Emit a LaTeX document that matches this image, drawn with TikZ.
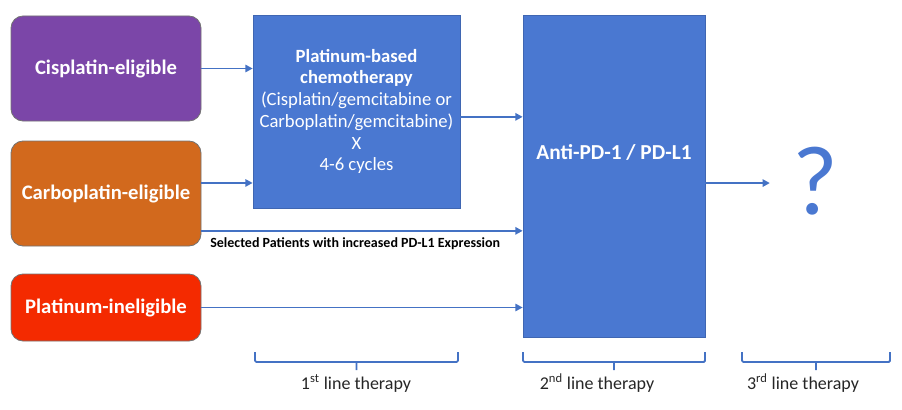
\documentclass[tikz,border=0pt]{standalone}
\usepackage{fontspec}
\setmainfont{Carlito}
\usetikzlibrary{arrows.meta}

\definecolor{cispurple}{HTML}{7B46A8}
\definecolor{carboorange}{HTML}{D2691D}
\definecolor{inelred}{HTML}{F42A00}
\definecolor{boxblue}{HTML}{4A78D1}
\definecolor{lineblue}{HTML}{4472C4}

\begin{document}
\begin{tikzpicture}[x=0.75pt, y=-0.75pt,
    group/.style={draw=black!55, line width=0.6pt, rounded corners=9pt, text=white,
      font=\fontsize{15.5}{18}\selectfont\bfseries, minimum width=142.5pt, inner sep=0pt},
    therapy/.style={draw=boxblue!85!black, line width=0.5pt, fill=boxblue, inner sep=0pt},
    arr/.style={draw=lineblue, line width=1.4pt, -{Triangle[length=5.5pt, width=5.5pt]}},
    brk/.style={draw=lineblue, line width=1.4pt, rounded corners=1pt},
    linelabel/.style={text=black!85, font=\fontsize{13.5}{16}\selectfont}]
  \useasboundingbox (0,0) rectangle (902,410);

  % patient groups
  \node[group, fill=cispurple, minimum height=78.75pt] (cis) at (106,68.5) {Cisplatin-eligible};
  \node[group, fill=carboorange, minimum height=78.75pt] (carbo) at (106,193.5) {Carboplatin-eligible};
  \node[group, fill=inelred, minimum height=50.25pt] (inel) at (106,307.5) {Platinum-ineligible};

  % therapies
  \node[therapy, minimum width=155.25pt, minimum height=144.75pt, text=white, align=center,
        font=\fontsize{14}{16.3}\selectfont] (chemo) at (356.5,111.5)
    {\textbf{Platinum-based}\\ \textbf{chemotherapy}\\ (Cisplatin/gemcitabine or\\
     Carboplatin/gemcitabine)\\ X\\ 4-6 cycles};
  \node[therapy, minimum width=136.5pt, minimum height=241.5pt] (anti) at (614,176) {};
  \node[text=white, font=\fontsize{16}{19}\selectfont\bfseries] (antitext)
    at ([yshift=18pt]anti.center) {Anti-PD-1 / PD-L1};
  \node[text=boxblue, font=\fontsize{74}{74}\selectfont, inner sep=0pt] (q) at (815,181) {?};

  % connectors
  \coordinate (c1) at ([yshift=7.9pt]carbo.east);
  \coordinate (c2) at ([yshift=-28pt]carbo.east);
  \coordinate (c3) at ([yshift=-4pt]chemo.east);
  \coordinate (c4) at ([yshift=-5.3pt]anti.east);
  \draw[arr] (cis.east) -- (cis.east -| chemo.west);
  \draw[arr] (c1) -- (c1 -| chemo.west);
  \draw[arr] (c2) -- (c2 -| anti.west);
  \draw[arr] (c3) -- (c3 -| anti.west);
  \draw[arr] (inel.east) -- (inel.east -| anti.west);
  \draw[arr, shorten >=16.5pt] (c4) -- (c4 -| q.west);
  \node[anchor=west, font=\fontsize{10.5}{12}\selectfont\bfseries, inner sep=0pt] (sel)
    at (210,244) {Selected Patients with increased PD-L1 Expression};

  % lines of therapy
  \draw[brk] (255,352) -- (255,362) -- (458,362) -- (458,352) (356.5,362) -- (356.5,370);
  \draw[brk] (523,352) -- (523,362) -- (705,362) -- (705,352) (614,362) -- (614,370);
  \draw[brk] (742,352) -- (742,362) -- (890,362) -- (890,352) (816,362) -- (816,370);
  \node[linelabel] (first) at (356,383) {1\textsuperscript{st} line therapy};
  \node[linelabel] (second) at (597,383) {2\textsuperscript{nd} line therapy};
  \node[linelabel] (third) at (803,383) {3\textsuperscript{rd} line therapy};
\end{tikzpicture}
\end{document}
